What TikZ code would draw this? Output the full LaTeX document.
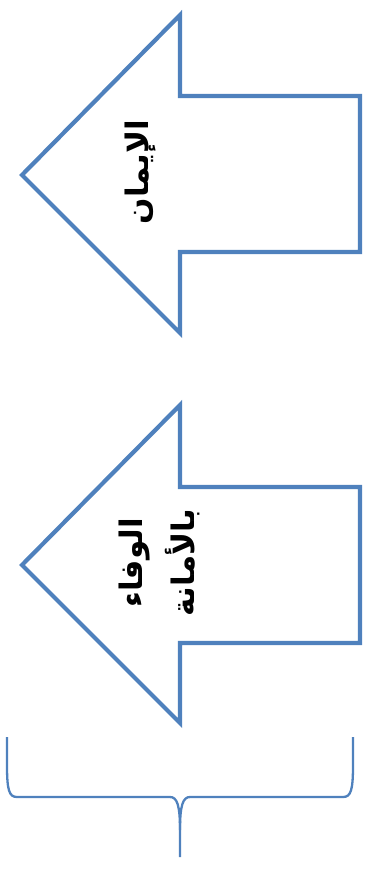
\documentclass[tikz,border=0pt]{standalone}
\usepackage{fontspec}
\newfontfamily\arabicfont[Script=Arabic]{DejaVu Sans}
\TeXXeTstate=1
\definecolor{obl}{HTML}{4F81BD}
\begin{document}
\begin{tikzpicture}[x=1pt,y=-1pt,
  arrowshape/.style={draw=obl,line width=4.2pt,line join=miter,fill=white},
  lbl/.style={rotate=90,font=\arabicfont\bfseries\fontsize{31}{52}\selectfont,align=center,inner sep=0pt},
  bracepath/.style={draw=obl,line width=2.3pt}]
\useasboundingbox (0,0) rectangle (366,875);
% arrow 1
\draw[arrowshape] (22,175) -- (180,15) -- (180,96) -- (360,96) -- (360,252) -- (180,252) -- (180,333) -- cycle;
\node[lbl] (t1) at (141,172) {\beginR الإيمان\endR};
% arrow 2
\draw[arrowshape] (22,565) -- (180,405) -- (180,487) -- (360,487) -- (360,643) -- (180,643) -- (180,723) -- cycle;
\node[lbl] (t2) at (159,563) {\beginR الوفاء\endR\\ \beginR بالأمانة\endR};
% brace
\draw[bracepath] (7,737) -- (7,765) .. controls (7,790) and (9,797) .. (17,797) -- (170,797) .. controls (177,797) and (180,805) .. (180,830) -- (180,857);
\draw[bracepath] (353,737) -- (353,765) .. controls (353,790) and (351,797) .. (343,797) -- (190,797) .. controls (183,797) and (180,805) .. (180,830);
\end{tikzpicture}
\end{document}
